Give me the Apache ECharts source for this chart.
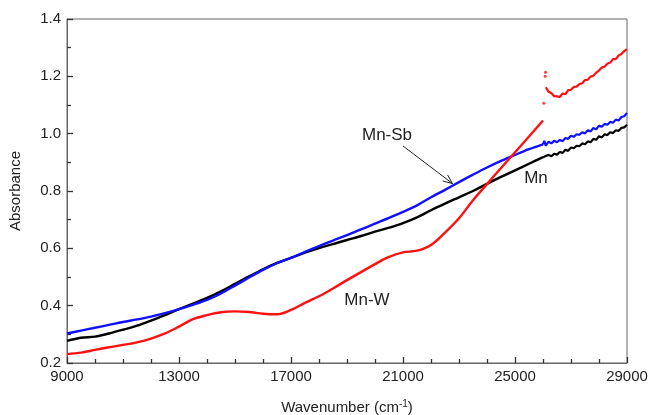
<!DOCTYPE html>
<html><head><meta charset="utf-8">
<script src="https://cdn.jsdelivr.net/npm/echarts@6/dist/echarts.min.js"></script>
<style>html,body{margin:0;padding:0;background:#fff}#c{width:649px;height:415px}</style>
</head><body><div id="c"></div><script>
// Wavenumber grid (cm^-1) for the smooth part of the spectra
const xSmooth = [9000,9500,10000,10500,11000,11500,12000,12500,13000,13500,14000,14500,15000,15500,16000,16500,17000,17500,18000,18500,19000,19500,20000,20500,21000,21500,22000,22500,23000,23500,24000,24500,25000,25500,26000];
const mnSmooth   = [0.277,0.288,0.292,0.303,0.316,0.330,0.348,0.367,0.388,0.407,0.427,0.450,0.476,0.502,0.527,0.549,0.567,0.585,0.601,0.615,0.629,0.643,0.658,0.672,0.688,0.708,0.733,0.756,0.778,0.800,0.825,0.849,0.872,0.895,0.918];
const mnSbSmooth = [0.303,0.313,0.323,0.333,0.343,0.352,0.362,0.374,0.388,0.403,0.420,0.443,0.470,0.498,0.525,0.548,0.567,0.588,0.608,0.627,0.646,0.666,0.686,0.706,0.727,0.750,0.778,0.804,0.831,0.857,0.882,0.905,0.926,0.946,0.963];
const mnWSmooth  = [0.231,0.236,0.246,0.255,0.263,0.272,0.285,0.303,0.327,0.353,0.367,0.377,0.380,0.378,0.372,0.370,0.385,0.410,0.433,0.460,0.489,0.517,0.545,0.570,0.586,0.592,0.612,0.655,0.705,0.768,0.824,0.880,0.935,0.990,1.046];
// Noisy part after the detector change (~26000 cm^-1)
const xNoisy = [26050,26100,26200,26300,26400,26500,26600,26700,26800,26900,27000,27100,27200,27300,27400,27500,27600,27700,27800,27900,28000,28100,28200,28300,28400,28500,28600,28700,28800,28900,29000];
const mnNoisy   = [0.912,0.922,0.926,0.921,0.930,0.927,0.936,0.933,0.944,0.940,0.952,0.949,0.958,0.956,0.966,0.963,0.973,0.970,0.982,0.979,0.991,0.987,0.998,0.995,1.005,1.002,1.012,1.010,1.020,1.022,1.031];
const mnSbNoisy = [0.975,0.958,0.972,0.966,0.975,0.970,0.978,0.974,0.985,0.982,0.993,0.989,0.998,0.996,1.005,1.001,1.012,1.008,1.020,1.015,1.028,1.024,1.034,1.031,1.041,1.038,1.049,1.046,1.058,1.061,1.072];
const mnWNoisy  = [null,1.162,1.146,1.141,1.131,1.130,1.128,1.140,1.138,1.152,1.153,1.163,1.164,1.173,1.176,1.187,1.188,1.199,1.202,1.213,1.220,1.231,1.234,1.244,1.248,1.260,1.260,1.273,1.278,1.288,1.295];
const mnWDotX = [26030,26080,26090];
const mnWDotY = [1.106,1.200,1.214];
// Axes
const xMin = 9000, xMax = 29000, xStep = 4000;
const yMin = 0.2, yMax = 1.4, yStep = 0.2;
// Annotations (data coordinates)
const labels = [
  {text:'Mn-Sb', x:20430, y:0.995},
  {text:'Mn', x:25750, y:0.845},
  {text:'Mn-W', x:19714, y:0.420}
];
const arrowFrom = [21000, 0.957], arrowTo = [22768, 0.826];

const zip = (xs, ys) => xs.map((x, i) => [x, ys[i]]).filter(p => p[1] !== null);
const lastPt = (xs, ys) => [[xs[xs.length-1], ys[ys.length-1]]];
const FONT = 'Liberation Sans, Arial, sans-serif';
const TXT = '#222';
const AX = '#333';

const chart = echarts.init(document.getElementById('c'), null, {renderer:'canvas'});
const lineStyle = (c, w) => ({color:c, width:w});
const smoothSeries = (name, c, ys, z) => ({name, type:'line', showSymbol:false, smooth:0.35, lineStyle:lineStyle(c, 2.4), data:zip(xSmooth, ys), z});
const noisySeries = (name, c, ys, z, join) => ({name:name+' (noisy)', type:'line', showSymbol:false, lineStyle:lineStyle(c, 2.2),
  data:(join ? lastPt(xSmooth, join) : []).concat(zip(xNoisy, ys)), z});
chart.setOption({
  animation:false,
  backgroundColor:'#fff',
  grid:{left:67, top:19, right:22, bottom:52, show:true, borderColor:'#666', borderWidth:1, containLabel:false, outerBoundsMode:'none'},
  xAxis:{
    type:'value', min:xMin, max:xMax, interval:xStep, position:'bottom',
    name:'Wavenumber (cm{sup|-1})', nameLocation:'middle', nameGap:36,
    nameTextStyle:{fontFamily:FONT, fontSize:15, color:TXT, rich:{sup:{fontFamily:FONT, fontSize:10, color:TXT, verticalAlign:'top', padding:[0,0,8,0]}}},
    axisLine:{show:true, onZero:false, lineStyle:{color:'#666', width:1}},
    axisTick:{show:true, inside:true, length:6, lineStyle:{color:AX, width:1.3}},
    minorTick:{show:true, splitNumber:4, length:4, lineStyle:{color:AX, width:1.3}},
    axisLabel:{fontFamily:FONT, fontSize:15, color:TXT, margin:6, formatter:(v)=>String(v)},
    splitLine:{show:false}
  },
  yAxis:{
    type:'value', min:yMin, max:yMax, interval:yStep,
    name:'Absorbance', nameLocation:'middle', nameGap:44, nameRotate:90,
    nameTextStyle:{fontFamily:FONT, fontSize:15, color:TXT},
    axisLine:{show:true, onZero:false, lineStyle:{color:'#666', width:1}},
    axisTick:{show:true, inside:true, length:6, lineStyle:{color:AX, width:1.3}},
    minorTick:{show:true, splitNumber:2, length:4, lineStyle:{color:AX, width:1.3}},
    axisLabel:{fontFamily:FONT, fontSize:15, color:TXT, margin:6, formatter:(v)=>v.toFixed(1)},
    splitLine:{show:false}
  },
  series:[
    smoothSeries('Mn', '#000000', mnSmooth, 2),
    noisySeries('Mn', '#000000', mnNoisy, 2, mnSmooth),
    smoothSeries('Mn-Sb', '#1010ff', mnSbSmooth, 3),
    noisySeries('Mn-Sb', '#1010ff', mnSbNoisy, 3, mnSbSmooth),
    smoothSeries('Mn-W', '#ff1010', mnWSmooth, 4),
    noisySeries('Mn-W', '#ff1010', mnWNoisy, 4, null),
    {name:'Mn-W dots', type:'scatter', symbolSize:3, itemStyle:{color:'#ff1010'}, data:zip(mnWDotX, mnWDotY), z:4}
  ]
});

function px(p){ return chart.convertToPixel({gridIndex:0}, p); }
const graphics = labels.map(l => {
  const p = px([l.x, l.y]);
  return {type:'text', x:p[0], y:p[1], style:{text:l.text, fontFamily:FONT, fontSize:17, fill:TXT, align:'center', verticalAlign:'middle'}, z:10};
});
const a0 = px(arrowFrom), a1 = px(arrowTo);
const ang = Math.atan2(a1[1]-a0[1], a1[0]-a0[0]);
const hl = 10, ha = 0.4;
graphics.push({type:'line', shape:{x1:a0[0], y1:a0[1], x2:a1[0], y2:a1[1]}, style:{stroke:'#222', lineWidth:1}, z:10});
graphics.push({type:'polyline', shape:{points:[
  [a1[0]-hl*Math.cos(ang-ha), a1[1]-hl*Math.sin(ang-ha)],
  [a1[0], a1[1]],
  [a1[0]-hl*Math.cos(ang+ha), a1[1]-hl*Math.sin(ang+ha)]
]}, style:{stroke:'#222', lineWidth:1, fill:null}, z:10});
chart.setOption({graphic:graphics});
</script></body></html>
